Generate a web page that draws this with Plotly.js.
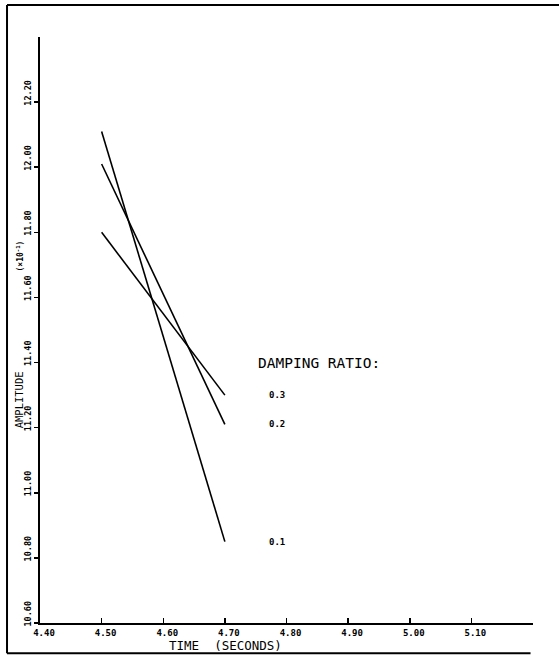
<!DOCTYPE html>
<html>
<head>
<meta charset="utf-8">
<script src="https://cdn.plot.ly/plotly-3.0.1.min.js"></script>
<style>html,body{margin:0;padding:0;background:#fff;}#chart{width:559px;height:657px;}</style>
</head>
<body>
<div id="chart"></div>
<script>
// Data
const timeSec = [4.50, 4.70];
const dampingLabels = ["0.1", "0.2", "0.3"];
const amp01 = [12.11, 10.85];
const amp02 = [12.01, 11.21];
const amp03 = [11.80, 11.30];
const xTickVals = [4.40, 4.50, 4.60, 4.70, 4.80, 4.90, 5.00, 5.10];
const xTickText = ["4.40", "4.50", "4.60", "4.70", "4.80", "4.90", "5.00", "5.10"];
const yTickVals = [10.60, 10.80, 11.00, 11.20, 11.40, 11.60, 11.80, 12.00, 12.20];
const yTickText = ["10.60", "10.80", "11.00", "11.20", "11.40", "11.60", "11.80", "12.00", "12.20"];

const series = [amp01, amp02, amp03];
const mono = "DejaVu Sans Mono";

const traces = series.map((ys, i) => ({
  x: timeSec, y: ys, type: "scatter", mode: "lines",
  name: dampingLabels[i],
  line: {color: "#000", width: 1.6},
  hoverinfo: "skip", showlegend: false
}));

const labelAnns = series.map((ys, i) => ({
  x: 4.785, y: ys[ys.length - 1], xref: "x", yref: "y",
  text: dampingLabels[i], showarrow: false,
  xanchor: "center", yanchor: "middle",
  font: {family: mono, size: 9, color: "#000", weight: "bold"}
}));

const layout = {
  width: 559, height: 657,
  margin: {l: 40, r: 26, t: 37, b: 34},
  paper_bgcolor: "#fff", plot_bgcolor: "#fff",
  showlegend: false,
  xaxis: {
    range: [4.40, 5.20], tickvals: xTickVals, ticktext: xTickText,
    showgrid: false, zeroline: false, showline: true, linecolor: "#000", linewidth: 2,
    ticks: "inside", ticklen: 5, tickwidth: 1.5, tickcolor: "#000",
    ticklabelshift: 4,
    tickfont: {family: mono, size: 9, color: "#000", weight: "bold"}
  },
  yaxis: {
    range: [10.60, 12.40], tickvals: yTickVals, ticktext: yTickText,
    showgrid: false, zeroline: false, showline: true, linecolor: "#000", linewidth: 2,
    ticks: "outside", ticklen: 4, tickwidth: 1.5, tickcolor: "#000",
    tickangle: -90, ticklabelshift: -8,
    tickfont: {family: mono, size: 8.5, color: "#000", weight: "bold"}
  },
  annotations: labelAnns.concat([
    {x: 4.75, y: 11.40, xref: "x", yref: "y", text: "DAMPING RATIO:", showarrow: false,
     xanchor: "left", yanchor: "middle", font: {family: mono, size: 14.5, color: "#000"}},
    {x: -0.042, y: 0.3805, xref: "paper", yref: "paper", text: "AMPLITUDE", showarrow: false,
     textangle: -90, xanchor: "center", yanchor: "middle", font: {family: mono, size: 10.5, color: "#000"}},
    {x: -0.04, y: 0.626, xref: "paper", yref: "paper", text: "(×10<sup>-1</sup>)", showarrow: false,
     textangle: -90, xanchor: "center", yanchor: "middle", font: {family: mono, size: 8, color: "#000", weight: "bold"}},
    {x: 0.377, y: -0.0385, xref: "paper", yref: "paper", text: "TIME  (SECONDS)", showarrow: false,
     xanchor: "center", yanchor: "middle", font: {family: mono, size: 12.5, color: "#000"}}
  ]),
  shapes: [
    {type: "line", xref: "paper", yref: "paper", x0: -0.0669, x1: -0.0669, y0: 1.0546, y1: -0.0515, line: {color: "#000", width: 2}},
    {type: "line", xref: "paper", yref: "paper", x0: -0.0669, x1: 1.06, y0: 1.0546, y1: 1.0546, line: {color: "#000", width: 2}},
    {type: "line", xref: "paper", yref: "paper", x0: -0.0669, x1: 0.995, y0: -0.0515, y1: -0.0515, line: {color: "#000", width: 2}}
  ]
};

Plotly.newPlot("chart", traces, layout, {staticPlot: true, displayModeBar: false});
</script>
</body>
</html>
